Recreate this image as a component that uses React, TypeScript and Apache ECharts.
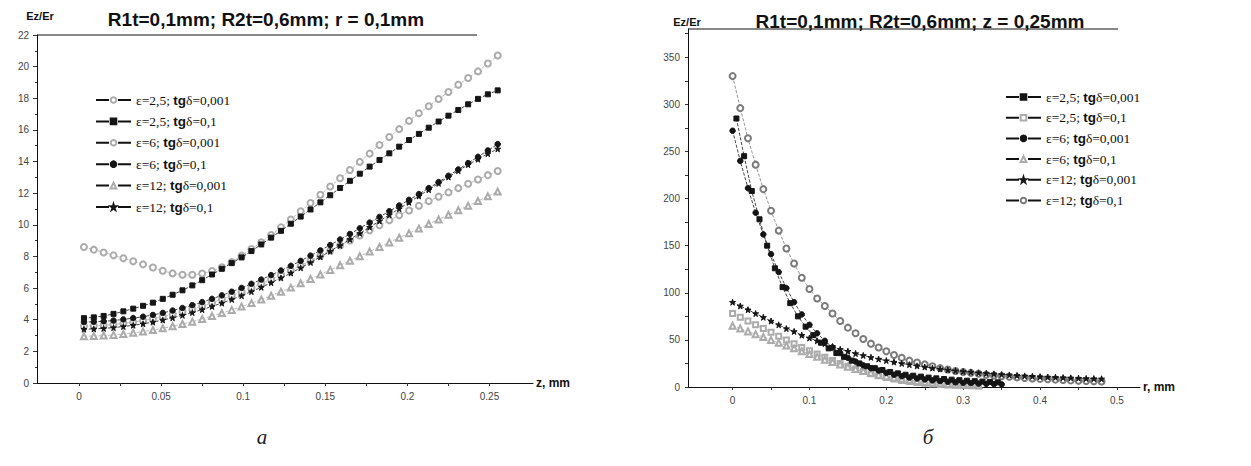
import React, { useEffect, useRef } from "react";
import * as echarts from "echarts";

// ---------- Chart а : Ez/Er vs z (r = 0,1 mm) ----------
const zValues = [0.003, 0.009, 0.015, 0.021, 0.027, 0.033, 0.039, 0.045, 0.051, 0.057, 0.063, 0.069, 0.075, 0.081, 0.087, 0.093, 0.099, 0.105, 0.111, 0.117, 0.123, 0.129, 0.135, 0.141, 0.147, 0.153, 0.159, 0.165, 0.171, 0.177, 0.183, 0.189, 0.195, 0.201, 0.207, 0.213, 0.219, 0.225, 0.231, 0.237, 0.243, 0.249, 0.255];
const aE25_001 = [8.6, 8.43, 8.25, 8.07, 7.89, 7.7, 7.5, 7.3, 7.1, 6.93, 6.84, 6.84, 6.92, 7.08, 7.32, 7.65, 8.05, 8.47, 8.9, 9.36, 9.84, 10.34, 10.86, 11.38, 11.9, 12.42, 12.94, 13.46, 13.98, 14.5, 15.05, 15.55, 16.05, 16.57, 17.05, 17.5, 17.95, 18.4, 18.85, 19.28, 19.7, 20.2, 20.7];
const aE25_01 = [4.1, 4.15, 4.24, 4.37, 4.53, 4.7, 4.88, 5.08, 5.32, 5.58, 5.86, 6.17, 6.5, 6.86, 7.22, 7.58, 7.94, 8.34, 8.76, 9.19, 9.62, 10.07, 10.52, 10.97, 11.42, 11.87, 12.33, 12.78, 13.23, 13.68, 14.1, 14.52, 14.94, 15.36, 15.75, 16.14, 16.53, 16.9, 17.26, 17.62, 17.96, 18.25, 18.5];
const aE6_001 = [3.6, 3.62, 3.65, 3.7, 3.77, 3.85, 3.95, 4.06, 4.19, 4.34, 4.5, 4.68, 4.87, 5.08, 5.3, 5.53, 5.77, 6.02, 6.28, 6.55, 6.83, 7.12, 7.42, 7.73, 8.05, 8.37, 8.69, 9.01, 9.33, 9.65, 9.97, 10.29, 10.6, 10.91, 11.21, 11.5, 11.78, 12.05, 12.32, 12.6, 12.87, 13.14, 13.4];
const aE6_01 = [3.85, 3.87, 3.9, 3.95, 4.02, 4.1, 4.19, 4.3, 4.43, 4.58, 4.74, 4.92, 5.11, 5.32, 5.54, 5.77, 6.01, 6.27, 6.54, 6.82, 7.11, 7.41, 7.72, 8.05, 8.38, 8.72, 9.07, 9.42, 9.78, 10.14, 10.5, 10.86, 11.22, 11.58, 11.94, 12.32, 12.7, 13.1, 13.5, 13.9, 14.3, 14.7, 15.1];
const aE12_001 = [2.95, 2.97, 3.0, 3.04, 3.1, 3.17, 3.25, 3.35, 3.46, 3.59, 3.73, 3.88, 4.05, 4.23, 4.42, 4.62, 4.83, 5.05, 5.28, 5.52, 5.77, 6.03, 6.3, 6.58, 6.86, 7.15, 7.44, 7.73, 8.02, 8.31, 8.6, 8.89, 9.18, 9.47, 9.76, 10.05, 10.34, 10.63, 10.92, 11.2, 11.5, 11.8, 12.1];
const aE12_01 = [3.4, 3.42, 3.45, 3.5, 3.57, 3.65, 3.74, 3.85, 3.98, 4.12, 4.28, 4.45, 4.64, 4.84, 5.05, 5.28, 5.52, 5.78, 6.05, 6.34, 6.64, 6.95, 7.28, 7.62, 7.97, 8.33, 8.7, 9.08, 9.46, 9.85, 10.24, 10.63, 11.02, 11.42, 11.82, 12.22, 12.62, 13.02, 13.42, 13.8, 14.15, 14.5, 14.8];

const aXTickLabels = [0, 0.05, 0.1, 0.15, 0.2, 0.25];
const aXTicks = [0, 0.025, 0.05, 0.075, 0.1, 0.125, 0.15, 0.175, 0.2, 0.225, 0.25];

// ---------- Chart б : Ez/Er vs r (z = 0,25 mm) ----------
const rLong = [0, 0.01, 0.02, 0.03, 0.04, 0.05, 0.06, 0.07, 0.08, 0.09, 0.1, 0.11, 0.12, 0.13, 0.14, 0.15, 0.16, 0.17, 0.18, 0.19, 0.2, 0.21, 0.22, 0.23, 0.24, 0.25, 0.26, 0.27, 0.28, 0.29, 0.3, 0.31, 0.32, 0.33, 0.34, 0.35, 0.36, 0.37, 0.38, 0.39, 0.4, 0.41, 0.42, 0.43, 0.44, 0.45, 0.46, 0.47, 0.48];
const rSquares = [0.005, 0.015, 0.025, 0.035, 0.045, 0.055, 0.065, 0.075, 0.085, 0.095, 0.105, 0.115, 0.125, 0.135, 0.145, 0.155, 0.165, 0.175, 0.185, 0.195, 0.205, 0.215, 0.225, 0.235, 0.245, 0.255, 0.265, 0.275, 0.285, 0.295, 0.305, 0.315, 0.325, 0.335, 0.345];
const rMid = [0, 0.01, 0.02, 0.03, 0.04, 0.05, 0.06, 0.07, 0.08, 0.09, 0.1, 0.11, 0.12, 0.13, 0.14, 0.15, 0.16, 0.17, 0.18, 0.19, 0.2, 0.21, 0.22, 0.23, 0.24, 0.25, 0.26, 0.27, 0.28, 0.29, 0.3, 0.31, 0.32, 0.33, 0.34, 0.35];
const rShort = [0, 0.01, 0.02, 0.03, 0.04, 0.05, 0.06, 0.07, 0.08, 0.09, 0.1, 0.11, 0.12, 0.13, 0.14, 0.15, 0.16, 0.17, 0.18, 0.19, 0.2, 0.21, 0.22, 0.23, 0.24, 0.25, 0.26, 0.27, 0.28, 0.29, 0.3, 0.31, 0.32];

const bE25_001 = [285, 245, 208, 178, 150, 126, 106, 89, 75, 64, 55, 47, 41, 36, 32, 28, 25, 22, 20, 18, 16, 14.5, 13, 12, 11, 10, 9.2, 8.5, 7.8, 7.2, 6.7, 6.2, 5.8, 5.4, 5.0];
const bE25_01 = [78, 74, 70, 66, 62, 58, 54, 50, 46, 42, 38.5, 35, 31.5, 28, 25, 22, 19, 16.5, 14, 12, 10, 8.5, 7, 5.8, 4.8, 4, 3.3, 2.7, 2.2, 1.8, 1.5, 1.2, 1.0];
const bE6_001 = [272, 240, 211, 185, 162, 141, 122, 105, 90, 77, 66, 57, 49, 42, 36, 31, 27, 23, 20, 17.5, 15, 13, 11.5, 10, 9, 8, 7, 6.2, 5.5, 4.9, 4.4, 4, 3.6, 3.3, 3, 2.8];
const bE6_01 = [65, 62, 59, 56, 53, 50, 47, 44, 41, 38, 35, 32, 29, 26.5, 24, 21.5, 19, 17, 15, 13, 11.5, 10, 8.7, 7.5, 6.5, 5.6, 4.8, 4.1, 3.5, 3, 2.6, 2.2, 1.9];
const bE12_001 = [90, 86, 82, 78, 74, 70, 66, 62, 59, 55, 52, 49, 46, 43, 40, 38, 35.5, 33.5, 31.5, 29.7, 28, 26.5, 25, 23.7, 22.4, 21.2, 20.1, 19.1, 18.2, 17.3, 16.5, 15.8, 15.1, 14.5, 13.9, 13.3, 12.8, 12.3, 11.8, 11.4, 11, 10.6, 10.3, 10, 9.7, 9.4, 9.1, 8.9, 8.7];
const bE12_01 = [330, 296, 264, 236, 210, 187, 166, 147, 131, 116, 104, 94, 86, 78, 70, 63, 57, 51, 46, 42, 38, 34, 31, 28, 26, 24, 22, 20, 18.5, 17, 16, 15, 14, 13, 12.2, 11.5, 10.8, 10.2, 9.6, 9.1, 8.6, 8.2, 7.8, 7.4, 7, 6.7, 6.4, 6.1, 5.8];

const bXTickLabels = [0, 0.1, 0.2, 0.3, 0.4, 0.5];
const bXTicks = [0, 0.05, 0.1, 0.15, 0.2, 0.25, 0.3, 0.35, 0.4, 0.45, 0.5];
const bYTickLabels = [0, 50, 100, 150, 200, 250, 300, 350];
const bYTicks = [0, 25, 50, 75, 100, 125, 150, 175, 200, 225, 250, 275, 300, 325, 350, 375];

const legendLabels: Record<string, string> = {
  a1: "{s|ε=2,5; }{b|tg}{s|δ=0,001}",
  a2: "{s|ε=2,5; }{b|tg}{s|δ=0,1}",
  a3: "{s|ε=6; }{b|tg}{s|δ=0,001}",
  a4: "{s|ε=6; }{b|tg}{s|δ=0,1}",
  a5: "{s|ε=12; }{b|tg}{s|δ=0,001}",
  a6: "{s|ε=12; }{b|tg}{s|δ=0,1}",
  b1: "{s|ε=2,5; }{b|tg}{s|δ=0,001}",
  b2: "{s|ε=2,5; }{b|tg}{s|δ=0,1}",
  b3: "{s|ε=6; }{b|tg}{s|δ=0,001}",
  b4: "{s|ε=6; }{b|tg}{s|δ=0,1}",
  b5: "{s|ε=12; }{b|tg}{s|δ=0,001}",
  b6: "{s|ε=12; }{b|tg}{s|δ=0,1}",
};

const STAR = "path://M50,0L61,35L98,35L68,57L79,91L50,70L21,91L32,57L2,35L39,35Z";
const SANS = "Liberation Sans";
const SERIF = "Liberation Serif";
const DARK = "#151515";
const LIGHT = "#ababab";

function zip(xs: number[], ys: number[]) {
  return ys.map((y, i) => [xs[i], y]);
}

function mkSeries(
  name: string,
  gi: number,
  xs: number[],
  ys: number[],
  symbol: string,
  size: number,
  color: string,
  z: number
) {
  return {
    name,
    type: "line",
    xAxisIndex: gi,
    yAxisIndex: gi,
    data: zip(xs, ys),
    symbol,
    symbolSize: size,
    showSymbol: true,
    showAllSymbol: true,
    z,
    lineStyle: { width: 0.8, type: "dashed", color },
    itemStyle: { color, borderColor: color, borderWidth: 1 },
    emphasis: { disabled: true },
  };
}

const legendCommon = {
  orient: "vertical",
  itemWidth: 35,
  itemHeight: 7,
  itemGap: 7.4,
  selectedMode: false,
  formatter: (n: string) => legendLabels[n],
  lineStyle: { color: "#111", width: 2, type: [13, 9], opacity: 1 },
  textStyle: {
    rich: {
      s: { fontFamily: SERIF, fontSize: 13.5, color: "#111", lineHeight: 14 },
      b: { fontFamily: SANS, fontWeight: "bold", fontSize: 13.5, color: "#111", lineHeight: 14 },
    },
  },
};

const axisLabelStyle = { fontFamily: SANS, fontSize: 10, color: "#444" };
const fmt = (v: number) => String(Math.round(v * 1000) / 1000);

export default function App() {
  const ref = useRef<HTMLDivElement>(null);
  useEffect(() => {
    if (!ref.current) return;
    const chart = echarts.init(ref.current, undefined, { renderer: "svg" });
    const option = {
      animation: false,
      backgroundColor: "#ffffff",
      grid: [
        { left: 37, top: 35, width: 496, height: 348, containLabel: false, outerBoundsMode: "none" },
        { left: 688, top: 29, width: 452, height: 358, containLabel: false, outerBoundsMode: "none" },
      ],
      xAxis: [
        {
          type: "value",
          gridIndex: 0,
          min: -0.0256,
          max: 0.2765,
          splitLine: { show: false },
          axisLine: { show: true, onZero: false, lineStyle: { color: "#111", width: 1 } },
          axisTick: { show: true, customValues: aXTicks, length: 3, lineStyle: { color: "#333" } },
          axisLabel: { ...axisLabelStyle, customValues: aXTickLabels, formatter: fmt, margin: 8 },
          name: "z, mm",
          nameLocation: "end",
          nameGap: 3,
          nameTextStyle: { fontFamily: SANS, fontWeight: "bold", fontSize: 12, color: "#111" },
        },
        {
          type: "value",
          gridIndex: 1,
          min: -0.058,
          max: 0.53,
          splitLine: { show: false },
          axisLine: { show: true, onZero: false, lineStyle: { color: "#111", width: 1 } },
          axisTick: { show: true, customValues: bXTicks, length: 3, lineStyle: { color: "#333" } },
          axisLabel: { ...axisLabelStyle, customValues: bXTickLabels, formatter: fmt, margin: 8 },
          name: "r, mm",
          nameLocation: "end",
          nameGap: 3,
          nameTextStyle: { fontFamily: SANS, fontWeight: "bold", fontSize: 12, color: "#111" },
        },
      ],
      yAxis: [
        {
          type: "value",
          gridIndex: 0,
          min: 0,
          max: 22,
          interval: 2,
          splitLine: { show: false },
          axisLine: { show: true, onZero: false, lineStyle: { color: "#111", width: 1 } },
          axisTick: { show: true, length: 4, lineStyle: { color: "#333" } },
          minorTick: { show: true, splitNumber: 2, length: 2, lineStyle: { color: "#333" } },
          axisLabel: { ...axisLabelStyle, margin: 8 },
        },
        {
          type: "value",
          gridIndex: 1,
          min: 0,
          max: 380,
          interval: 50,
          splitLine: { show: false },
          axisLine: { show: true, onZero: false, lineStyle: { color: "#111", width: 1 } },
          axisTick: { show: true, customValues: bYTicks, length: 3, lineStyle: { color: "#333" } },
          axisLabel: { ...axisLabelStyle, customValues: bYTickLabels, margin: 8 },
        },
      ],
      legend: [
        { ...legendCommon, left: 90, top: 88, data: ["a1", "a2", "a3", "a4", "a5", "a6"] },
        { ...legendCommon, left: 1000, top: 85, itemGap: 6.7, data: ["b1", "b2", "b3", "b4", "b5", "b6"] },
      ],
      series: [
        mkSeries("a1", 0, zValues, aE25_001, "emptyCircle", 6, LIGHT, 2),
        mkSeries("a2", 0, zValues, aE25_01, "rect", 5, DARK, 5),
        mkSeries("a3", 0, zValues, aE6_001, "emptyCircle", 6, LIGHT, 2),
        mkSeries("a4", 0, zValues, aE6_01, "circle", 5.5, DARK, 5),
        mkSeries("a5", 0, zValues, aE12_001, "emptyTriangle", 6, LIGHT, 2),
        mkSeries("a6", 0, zValues, aE12_01, STAR, 6, DARK, 5),
        mkSeries("b1", 1, rSquares, bE25_001, "rect", 5, DARK, 5),
        mkSeries("b2", 1, rShort, bE25_01, "emptyRect", 5, LIGHT, 2),
        mkSeries("b3", 1, rMid, bE6_001, "circle", 5.5, DARK, 5),
        mkSeries("b4", 1, rShort, bE6_01, "emptyTriangle", 6, LIGHT, 2),
        mkSeries("b5", 1, rLong, bE12_001, STAR, 6, DARK, 4),
        mkSeries("b6", 1, rLong, bE12_01, "emptyCircle", 6, "#7a7a7a", 3),
      ],
      graphic: [
        { type: "line", shape: { x1: 37, y1: 35, x2: 477, y2: 35 }, style: { stroke: "#111", lineWidth: 1 } },
        { type: "line", shape: { x1: 688, y1: 29, x2: 1118, y2: 29 }, style: { stroke: "#111", lineWidth: 1 } },
        { type: "text", x: 266, y: 19, style: { text: "R1t=0,1mm; R2t=0,6mm; r = 0,1mm", font: `bold 19px "${SANS}"`, fill: "#111", textAlign: "center", textVerticalAlign: "middle" } },
        { type: "text", x: 920, y: 21, style: { text: "R1t=0,1mm; R2t=0,6mm; z = 0,25mm", font: `bold 19px "${SANS}"`, fill: "#111", textAlign: "center", textVerticalAlign: "middle" } },
        { type: "text", x: 40, y: 16, style: { text: "Ez/Er", font: `bold 11px "${SANS}"`, fill: "#111", textAlign: "center", textVerticalAlign: "middle" } },
        { type: "text", x: 687, y: 22, style: { text: "Ez/Er", font: `bold 11px "${SANS}"`, fill: "#111", textAlign: "center", textVerticalAlign: "middle" } },
        { type: "text", x: 262, y: 437, style: { text: "а", font: `italic 21px "${SERIF}"`, fill: "#222", textAlign: "center", textVerticalAlign: "middle" } },
        { type: "text", x: 928, y: 437, style: { text: "б", font: `italic 21px "${SERIF}"`, fill: "#222", textAlign: "center", textVerticalAlign: "middle" } },
      ],
    };
    chart.setOption(option as any);
    return () => chart.dispose();
  }, []);
  return (
    <div
      ref={ref}
      style={{ position: "fixed", left: 0, top: 0, width: 1251, height: 466, background: "#fff" }}
    />
  );
}
